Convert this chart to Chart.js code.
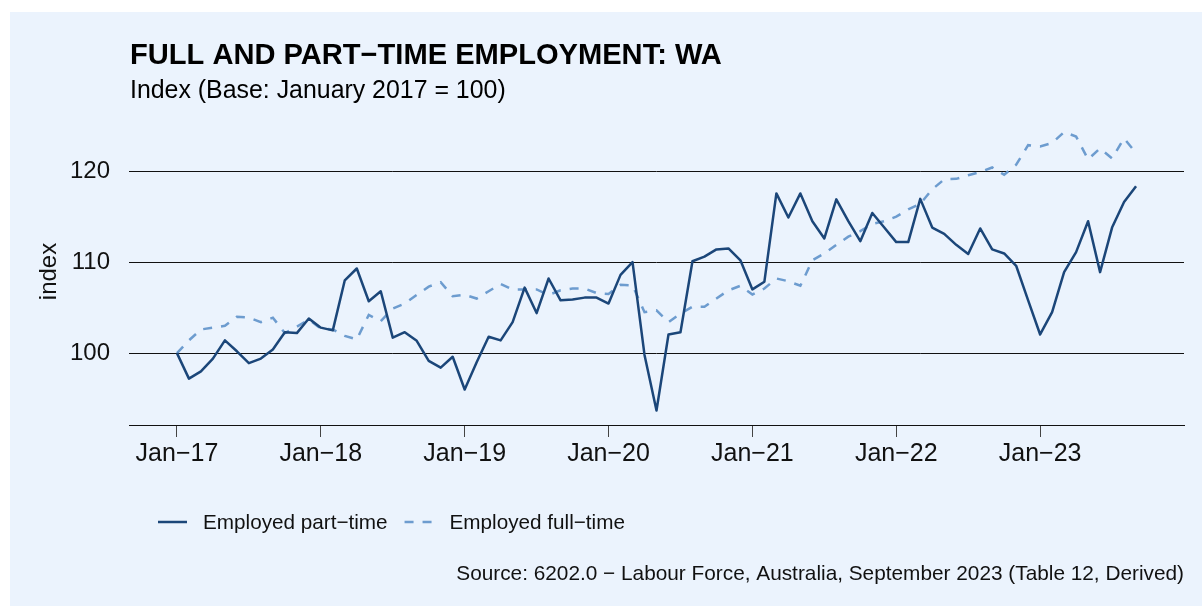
<!DOCTYPE html>
<html><head><meta charset="utf-8">
<script src="https://cdn.jsdelivr.net/npm/chart.js@4/dist/chart.umd.min.js"></script>
<style>html,body{margin:0;padding:0;background:#fff;overflow:hidden}canvas{display:block}</style>
</head><body>
<canvas id="c" width="1202" height="606"></canvas>
<script>
const chartTitle = 'FULL AND PART\u2212TIME EMPLOYMENT: WA';
const chartSubtitle = 'Index (Base: January 2017 = 100)';
const sourceNote = 'Source: 6202.0 \u2212 Labour Force, Australia, September 2023 (Table 12, Derived)';
const yAxisTitle = 'index';
const seriesNames = ['Employed part\u2212time', 'Employed full\u2212time'];

// Month index 0 = Jan-17 ... 80 = Sep-23
const tickLabels = ['Jan\u221217','Jan\u221218','Jan\u221219','Jan\u221220','Jan\u221221','Jan\u221222','Jan\u221223'];
const tickMonthIndex = [0, 12, 24, 36, 48, 60, 72];
const yTickValues = [100, 110, 120];

const partTime = [
  100.0, 97.2, 98.0, 99.4, 101.4, 100.2, 98.9, 99.4, 100.4, 102.3, 102.2, 103.8,
  102.8, 102.5, 108.0, 109.3, 105.7, 106.8, 101.7, 102.3, 101.35, 99.15, 98.4, 99.6,
  96.0, 99.0, 101.8, 101.4, 103.4, 107.2, 104.4, 108.2, 105.8, 105.9, 106.1, 106.1,
  105.45, 108.6, 110.0, 99.8, 93.7, 102.05, 102.3, 110.1, 110.6, 111.4, 111.5, 110.2,
  107.0, 107.85, 117.55, 114.9, 117.55, 114.5, 112.6, 116.9, 114.5, 112.3, 115.4, 113.8,
  112.2, 112.2, 116.95, 113.8, 113.1, 111.9, 110.9, 113.7, 111.4, 110.95, 109.6, 105.8,
  102.05, 104.5, 108.9, 111.1, 114.5, 108.9, 113.8, 116.6, 118.35
];
const fullTime = [
  100.0, 101.4, 102.6, 102.8, 103.0, 104.0, 103.9, 103.4, 103.9, 102.2, 102.9, 103.7,
  102.7, 102.6, 101.9, 101.5, 104.2, 103.5, 104.9, 105.45, 106.4, 107.3, 107.8, 106.25,
  106.4, 106.0, 106.8, 107.6, 107.0, 107.0, 107.0, 106.4, 106.9, 107.1, 107.1, 106.6,
  106.5, 107.5, 107.45, 104.5, 104.7, 103.4, 104.35, 105.1, 105.1, 106.0, 106.9, 107.4,
  106.45, 107.1, 108.2, 107.9, 107.4, 110.2, 110.95, 111.9, 112.8, 113.4, 114.2, 114.5,
  115.0, 115.8, 116.4, 118.0, 119.1, 119.15, 119.55, 119.9, 120.4, 119.6, 120.7, 122.85,
  122.7, 123.1, 124.3, 123.8, 121.3, 122.5, 121.4, 123.6, 122.0
];

const toPoints = arr => arr.map((v, i) => ({ x: i, y: v }));
const FONT = '"Liberation Sans", Arial, Helvetica, sans-serif';
Chart.defaults.font.family = FONT;

const decor = {
  id: 'decor',
  beforeDraw(chart) {
    const ctx = chart.ctx;
    ctx.save();
    ctx.fillStyle = '#ffffff';
    ctx.fillRect(0, 0, chart.width, chart.height);
    ctx.fillStyle = '#ebf3fd';
    ctx.fillRect(10, 12, chart.width - 10, chart.height - 12);
    ctx.restore();
  },
  afterDraw(chart) {
    const ctx = chart.ctx;
    ctx.save();
    ctx.textBaseline = 'alphabetic';
    ctx.textAlign = 'left';
    ctx.fillStyle = '#000';
    ctx.font = 'bold 29.1px ' + FONT;
    ctx.fillText(chartTitle, 130, 64);
    ctx.font = '24.9px ' + FONT;
    ctx.fillText(chartSubtitle, 130, 98);
    // legend
    ctx.font = '20.7px ' + FONT;
    let x = 158;
    const ly = 522;
    chart.data.datasets.forEach(ds => {
      ctx.save();
      ctx.strokeStyle = ds.borderColor;
      ctx.lineWidth = ds.borderWidth;
      ctx.setLineDash(ds.borderDash || []);
      ctx.beginPath();
      ctx.moveTo(x, ly);
      ctx.lineTo(x + 29, ly);
      ctx.stroke();
      ctx.restore();
      ctx.fillStyle = '#111';
      ctx.textBaseline = 'alphabetic';
      ctx.fillText(ds.label, x + 45, 529);
      x = x + 45 + ctx.measureText(ds.label).width + 17;
    });
    ctx.textAlign = 'right';
    ctx.font = '20.8px ' + FONT;
    ctx.fillStyle = '#111';
    ctx.fillText(sourceNote, chart.chartArea.right, 580);
    ctx.restore();
  }
};

new Chart(document.getElementById('c'), {
  type: 'line',
  data: {
    datasets: [
      {
        label: seriesNames[0],
        data: toPoints(partTime),
        borderColor: '#1b4679',
        borderWidth: 2.5,
        pointRadius: 0,
        tension: 0,
        fill: false,
        borderJoinStyle: 'round'
      },
      {
        label: seriesNames[1],
        data: toPoints(fullTime),
        borderColor: '#6d9ccf',
        borderWidth: 2.5,
        borderDash: [9, 9],
        pointRadius: 0,
        tension: 0,
        fill: false
      }
    ]
  },
  options: {
    responsive: false,
    animation: false,
    devicePixelRatio: 1,
    events: [],
    layout: { padding: { top: 118, right: 18, bottom: 0, left: 0 } },
    plugins: { legend: { display: false }, tooltip: { enabled: false }, title: { display: false } },
    scales: {
      x: {
        type: 'linear',
        min: -4,
        max: 84,
        afterBuildTicks: s => { s.ticks = tickMonthIndex.map(v => ({ value: v })); },
        afterFit: s => { s.height = 181; },
        ticks: {
          autoSkip: false,
          maxRotation: 0,
          padding: 2,
          color: '#111',
          font: { size: 25 },
          callback: v => tickLabels[tickMonthIndex.indexOf(v)]
        },
        grid: { display: true, drawOnChartArea: false, drawTicks: true, tickLength: 12, tickColor: '#444', color: '#444' },
        border: { display: true, color: '#111', width: 1 }
      },
      y: {
        min: 92.1,
        max: 125.84,
        afterBuildTicks: s => { s.ticks = yTickValues.map(v => ({ value: v })); },
        afterFit: s => { s.width = 129; },
        ticks: { padding: 19, color: '#111', font: { size: 24 } },
        grid: { color: '#111', lineWidth: 1, drawTicks: false },
        border: { display: false },
        title: { display: true, text: yAxisTitle, color: '#111', font: { size: 24 }, padding: { top: 34.6, bottom: 0 } }
      }
    }
  },
  plugins: [decor]
});
</script>
</body></html>
